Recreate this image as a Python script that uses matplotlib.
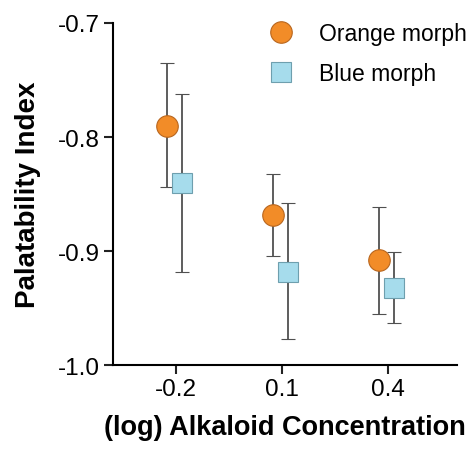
import numpy as np
import matplotlib
matplotlib.use("Agg")
import matplotlib.pyplot as plt

plt.rcParams['font.family'] = ['Liberation Sans', 'DejaVu Sans']

# data
conc = [-0.2, 0.1, 0.4]
conc_labels = ['-0.2', '0.1', '0.4']
orange_mean = [-0.790, -0.868, -0.908]
orange_hi = [-0.735, -0.832, -0.861]
orange_lo = [-0.844, -0.904, -0.955]
blue_mean = [-0.840, -0.918, -0.932]
blue_hi = [-0.762, -0.858, -0.901]
blue_lo = [-0.918, -0.977, -0.963]

conc = np.array(conc)
om, ob = np.array(orange_mean), np.array(blue_mean)
oerr = [om - np.array(orange_lo), np.array(orange_hi) - om]
berr = [ob - np.array(blue_lo), np.array(blue_hi) - ob]

fig = plt.figure(figsize=(4.7, 4.52), dpi=100)
ax = fig.add_axes([0.240, 0.190, 0.732, 0.757])

ax.errorbar(conc - 0.024, om, yerr=oerr, fmt='o', ms=15.5, mfc='#F28C28',
            mec='#B8661E', mew=0.8, ecolor='#505050', elinewidth=1.3,
            capsize=5, capthick=1.3, label='Orange morph', zorder=3)
ax.errorbar(conc + 0.017, ob, yerr=berr, fmt='s', ms=15, mfc='#A6DCEC',
            mec='#6E9FAE', mew=0.8, ecolor='#505050', elinewidth=1.3,
            capsize=5, capthick=1.3, label='Blue morph', zorder=3)

ax.set_xlim(-0.378, 0.595)
ax.set_ylim(-1.0, -0.7)
ax.set_xticks(conc)
ax.set_xticklabels(conc_labels)
ax.set_yticks([-1.0, -0.9, -0.8, -0.7])
ax.set_yticklabels(['-1.0', '-0.9', '-0.8', '-0.7'])
for s in ['top', 'right']:
    ax.spines[s].set_visible(False)
for s in ['left', 'bottom']:
    ax.spines[s].set_linewidth(1.5)
ax.tick_params(width=1.5, length=6.5, labelsize=17.5, color='#222222', pad=3)
ax.set_ylabel('Palatability Index', fontsize=20, fontweight='bold', labelpad=12)
ax.set_xlabel('(log) Alkaloid Concentration', fontsize=19.5, fontweight='bold', labelpad=10)

handles, labels = ax.get_legend_handles_labels()
handles = [h[0] for h in handles]
ax.legend(handles, labels, loc='upper left', bbox_to_anchor=(0.39, 1.063),
          frameon=False, fontsize=16.5, handletextpad=1.05, labelspacing=0.73,
          handlelength=1.2)

fig.savefig('out.png', dpi=100)
